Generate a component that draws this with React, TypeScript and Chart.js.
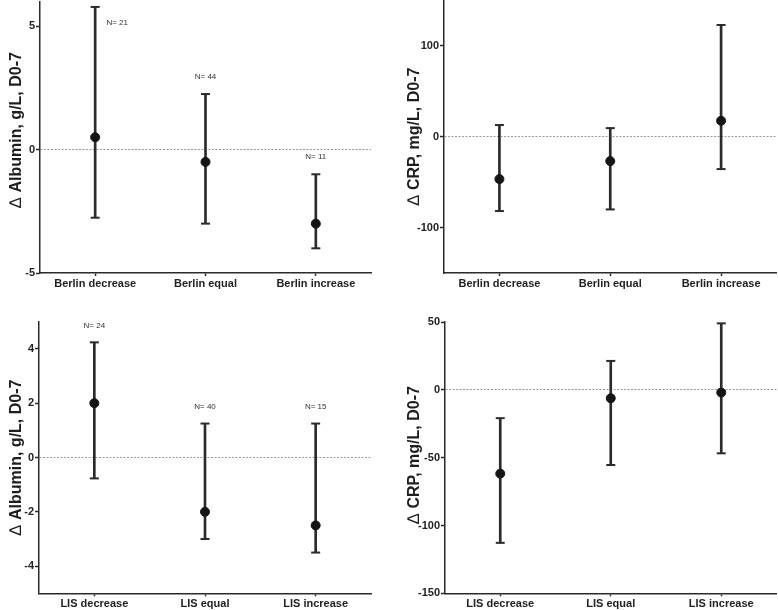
import React, { useEffect, useRef } from "react";
import { Chart, registerables } from "chart.js";
Chart.register(...registerables);

// ---------- data ----------
const berlinCategories = ["Berlin decrease", "Berlin equal", "Berlin increase"];
const lisCategories = ["LIS decrease", "LIS equal", "LIS increase"];

const albBerlinMean = [0.5, -0.5, -3.0];
const albBerlinLow = [-2.76, -3.0, -4.0];
const albBerlinHigh = [5.78, 2.25, -1.0];
const albBerlinN = ["N= 21", "N= 44", "N= 11"];

const crpBerlinMean = [-46.6, -26.8, 17.6];
const crpBerlinLow = [-81.8, -80.0, -35.6];
const crpBerlinHigh = [12.9, 9.5, 123.0];

const albLisMean = [2.0, -2.0, -2.5];
const albLisLow = [-0.77, -3.0, -3.5];
const albLisHigh = [4.24, 1.25, 1.25];
const albLisN = ["N= 24", "N= 40", "N= 15"];

const crpLisMean = [-61.8, -6.2, -2.0];
const crpLisLow = [-112.8, -55.4, -46.8];
const crpLisHigh = [-20.9, 21.3, 49.0];

const albBerlinTicks = [-5, 0, 5];
const crpBerlinTicks = [-100, 0, 100];
const albLisTicks = [-4, -2, 0, 2, 4];
const crpLisTicks = [-150, -100, -50, 0, 50];

const albTitle = "Albumin, g/L, D0-7";
const crpTitle = "CRP, mg/L, D0-7";
const deltaSymbol = "\u2206";

// ---------- panel layout ----------
type Panel = {
  left: number; top: number; width: number; height: number;
  cats: string[]; mean: number[]; low: number[]; high: number[];
  nLabels?: string[]; min: number; max: number; ticks: number[];
  yW: number; padTop: number; padRight: number; xH: number;
  title: string; titleX: number; titleY: number;
};

const panels: Panel[] = [
  { left: 0, top: 0, width: 389, height: 300, cats: berlinCategories, mean: albBerlinMean, low: albBerlinLow, high: albBerlinHigh, nLabels: albBerlinN, min: -5, max: 6, ticks: albBerlinTicks, yW: 40, padTop: 1.5, padRight: 18, xH: 27, title: albTitle, titleX: 16.5, titleY: 130 },
  { left: 390, top: 0, width: 388, height: 300, cats: berlinCategories, mean: crpBerlinMean, low: crpBerlinLow, high: crpBerlinHigh, min: -150, max: 150, ticks: crpBerlinTicks, yW: 54, padTop: 0.5, padRight: 1.5, xH: 27, title: crpTitle, titleX: 24.5, titleY: 136.5 },
  { left: 0, top: 300, width: 389, height: 310, cats: lisCategories, mean: albLisMean, low: albLisLow, high: albLisHigh, nLabels: albLisN, min: -5, max: 5, ticks: albLisTicks, yW: 39, padTop: 21.7, padRight: 18, xH: 16.7, title: albTitle, titleX: 16.5, titleY: 157.5 },
  { left: 390, top: 300, width: 388, height: 310, cats: lisCategories, mean: crpLisMean, low: crpLisLow, high: crpLisHigh, min: -150, max: 50, ticks: crpLisTicks, yW: 55, padTop: 22, padRight: 1.5, xH: 16.7, title: crpTitle, titleX: 24.5, titleY: 155 },
];

const FONT = "'Liberation Sans', Arial, sans-serif";
const INK = "#2b2b2b";

function PanelChart({ p }: { p: Panel }) {
  const ref = useRef<HTMLCanvasElement | null>(null);
  useEffect(() => {
    if (!ref.current) return;
    const annot = {
      id: "annot" + p.left + "_" + p.top,
      afterDatasetsDraw(chart: any) {
        const ctx = chart.ctx;
        const xs = chart.scales.x;
        const ys = chart.scales.y;
        if (p.nLabels) {
          ctx.save();
          ctx.font = `8px ${FONT}`;
          ctx.fillStyle = "#333";
          ctx.textAlign = "center";
          ctx.textBaseline = "middle";
          p.nLabels.forEach((t, i) => {
            let x = xs.getPixelForValue(i);
            const yTop = ys.getPixelForValue(p.high[i]);
            let y = yTop - 17;
            if (y < 8) {
              x += 22;
              y = yTop + 16;
            }
            ctx.fillText(t, x, y);
          });
          ctx.restore();
        }
        // rotated axis title
        ctx.save();
        ctx.translate(p.titleX, p.titleY);
        ctx.rotate(-Math.PI / 2);
        ctx.fillStyle = "#1e1e1e";
        ctx.textBaseline = "middle";
        ctx.font = `17px ${FONT}`;
        const dW = ctx.measureText(deltaSymbol).width;
        ctx.font = `bold 16px ${FONT}`;
        const rW = ctx.measureText(p.title).width;
        const gap = 5;
        const total = dW + gap + rW;
        const x0 = -total / 2;
        ctx.textAlign = "left";
        ctx.font = `17px ${FONT}`;
        ctx.fillText(deltaSymbol, x0, 0);
        ctx.font = `bold 16px ${FONT}`;
        ctx.fillText(p.title, x0 + dW + gap, 0.5);
        ctx.restore();
      },
    };

    const chart = new Chart(ref.current, {
      type: "bar",
      data: {
        labels: p.cats,
        datasets: [
          {
            type: "bar",
            data: p.low.map((l, i) => [l, p.high[i]]) as any,
            backgroundColor: INK,
            borderWidth: 0,
            barThickness: 2,
            order: 3,
          } as any,
          {
            type: "line",
            data: p.high,
            showLine: false,
            pointStyle: "line",
            pointRadius: 4.5,
            pointBorderWidth: 2,
            pointBorderColor: INK,
            borderColor: INK,
            clip: false,
            order: 2,
          } as any,
          {
            type: "line",
            data: p.low,
            showLine: false,
            pointStyle: "line",
            pointRadius: 4.5,
            pointBorderWidth: 2,
            pointBorderColor: INK,
            borderColor: INK,
            clip: false,
            order: 2,
          } as any,
          {
            type: "line",
            data: p.mean,
            showLine: false,
            pointStyle: "circle",
            pointRadius: 4.5,
            pointBackgroundColor: "#151515",
            pointBorderColor: "#151515",
            pointBorderWidth: 1,
            clip: false,
            order: 0,
          } as any,
        ],
      },
      options: {
        animation: false,
        responsive: false,
        events: [],
        layout: { autoPadding: false, padding: { left: 0, top: p.padTop, right: p.padRight, bottom: 0 } },
        plugins: { legend: { display: false }, tooltip: { enabled: false }, title: { display: false } },
        scales: {
          x: {
            type: "category",
            offset: true,
            grid: { display: true, drawOnChartArea: false, offset: false, tickLength: 3, tickColor: INK, tickWidth: 1.5 },
            border: { color: INK, width: 1.5 },
            ticks: { font: { family: FONT, weight: "bold", size: 11 }, color: "#222", padding: 1, maxRotation: 0, autoSkip: false },
            afterFit: (s: any) => { s.height = p.xH; s.paddingLeft = 0; s.paddingRight = 0; },
          },
          y: {
            type: "linear",
            min: p.min,
            max: p.max,
            afterBuildTicks: (s: any) => { s.ticks = p.ticks.map((v) => ({ value: v })); },
            afterFit: (s: any) => { s.width = p.yW; s.paddingTop = 0; s.paddingBottom = 0; },
            grid: {
              display: true,
              drawOnChartArea: true,
              color: (c: any) => (c.tick && c.tick.value === 0 ? "#9a9a9a" : "rgba(0,0,0,0)"),
              lineWidth: 1,
              tickLength: 4,
              tickColor: INK,
              tickWidth: 1.5,
            },
            border: { color: INK, width: 1.5, dash: [2, 1.5] },
            ticks: { font: { family: FONT, weight: "bold", size: 11 }, color: "#222", padding: 1 },
          },
        },
      } as any,
      plugins: [annot],
    });
    return () => chart.destroy();
  }, []);
  return (
    <canvas
      ref={ref}
      width={p.width}
      height={p.height}
      style={{ position: "absolute", left: p.left, top: p.top, width: p.width, height: p.height }}
    />
  );
}

export default function App() {
  return (
    <div style={{ position: "absolute", left: 0, top: 0, width: 778, height: 610, background: "#fff" }}>
      {panels.map((p, i) => (
        <PanelChart key={i} p={p} />
      ))}
    </div>
  );
}
